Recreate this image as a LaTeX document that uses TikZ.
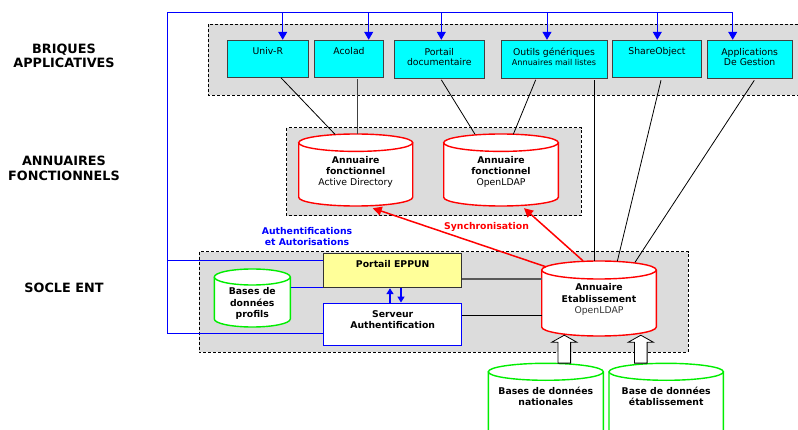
\documentclass[tikz,border=0pt]{standalone}
\usepackage{fontspec}
\setmainfont{DejaVu Sans}
\usetikzlibrary{arrows.meta,calc}
\definecolor{regiongray}{HTML}{DCDCDC}
\definecolor{brickcyan}{HTML}{00FFFF}
\definecolor{eppunyellow}{HTML}{FFFF99}
\definecolor{linkblue}{HTML}{0000FF}
\definecolor{syncred}{HTML}{FF0000}
\definecolor{dbgreen}{HTML}{00EE00}

% box with text on top: width, height, first-line strut, text
\newcommand\topbox[4]{\parbox[c][#2][t]{#1}{\centering\rule{0pt}{#3}#4}}

% cylinder: name, cx, ytop, rx, ry, height, style, text, text shift
\newcommand\mycyl[9]{%
  \fill[white] ({#2-#4}, {#3+#5}) -- ({#2-#4}, {#3+#6-#5}) arc[start angle=180, end angle=360, x radius=#4pt, y radius=#5pt] -- ({#2+#4}, {#3+#5}) -- cycle;
  \draw[#7] ({#2-#4}, {#3+#5}) -- ({#2-#4}, {#3+#6-#5}) arc[start angle=180, end angle=360, x radius=#4pt, y radius=#5pt] -- ({#2+#4}, {#3+#5});
  \filldraw[#7, fill=white] (#2, {#3+#5}) ellipse[x radius=#4pt, y radius=#5pt];
  \node[inner sep=0pt, minimum width=2*#4pt, minimum height=#6pt] (#1) at (#2, {#3+#6/2}) {};
  \node[cyltext] (#1-t) at (#2, {#3+#6/2+1*(#9)}) {#8};
}

% hollow upward arrow: base coordinate, tip coordinate
\newcommand\hollowup[2]{%
  \draw[hollow] ($(#1)+(-6.3,0)$) -- ($(#2)+(-6.3,7)$) -- ($(#2)+(-12.5,7)$) -- (#2)
    -- ($(#2)+(12.5,7)$) -- ($(#2)+(6.3,7)$) -- ($(#1)+(6.3,0)$) -- cycle;
}

\tikzset{
  region/.style={draw=black, dash pattern=on 3pt off 2pt, fill=regiongray, line width=0.8pt},
  brick/.style={draw=black!75, fill=brickcyan, line width=1pt, inner sep=0pt, font=\fontsize{9.3}{10}\selectfont},
  cyltext/.style={inner sep=0pt, align=center, font=\fontsize{9.3}{11.3}\selectfont},
  link/.style={line width=0.8pt, black},
  buslink/.style={linkblue, line width=1pt},
  busarrow/.style={buslink, -{Triangle[length=8pt,width=9pt]}},
  pairarrow/.style={linkblue, line width=1.5pt, -{Triangle[length=6pt,width=7pt]}},
  syncarrow/.style={syncred, line width=1.5pt, -{Triangle[length=9pt,width=9pt]}},
  hollow/.style={draw=black, fill=white, line width=0.8pt},
  layerlabel/.style={font=\fontsize{12.8}{14.5}\selectfont\bfseries, align=center},
  redcyl/.style={syncred, line width=1.4pt},
  greencyl/.style={dbgreen, line width=1.4pt}
}

\begin{document}
\begin{tikzpicture}[x=1pt, y=-1pt]
\useasboundingbox (0,0) rectangle (798,430);
\clip (0,0) rectangle (798,430);

% layer labels
\node[layerlabel] (lab1) at (64,55.8) {BRIQUES\\APPLICATIVES};
\node[layerlabel] (lab2) at (64,168.3) {ANNUAIRES\\FONCTIONNELS};
\node[layerlabel] (lab3) at (64,287.7) {SOCLE ENT};

% regions
\draw[region] (208,24.3) rectangle (805,95);
\draw[region] (286.7,127.7) rectangle (581,215.8);
\draw[region] (199,251.7) rectangle (688.3,352.3);

% application bricks
\node[brick] (univ) at (267.8,58.8) {\topbox{81pt}{37pt}{14pt}{Univ-R}};
\node[brick] (acolad) at (349,58.8) {\topbox{69.4pt}{37pt}{14pt}{Acolad}};
\node[brick] (pdoc) at (439.3,59.3) {\topbox{90pt}{38pt}{15pt}{Portail\\documentaire}};
\node[brick] (outils) at (554,59.3) {\topbox{106pt}{38pt}{15pt}{Outils génériques\\{\fontsize{8.1}{10}\selectfont Annuaires mail listes}}};
\node[brick] (share) at (657,58.8) {\topbox{88.6pt}{37pt}{14pt}{ShareObject}};
\node[brick] (appli) at (749.65,59.3) {\topbox{85.3pt}{38pt}{15pt}{Applications\\De Gestion}};

% functional directories
\mycyl{c1}{355.7}{134}{57}{8.7}{72}{redcyl}{\textbf{Annuaire}\\\textbf{fonctionnel}\\Active Directory}{2}
\mycyl{c2}{501}{134}{57.3}{8.7}{72}{redcyl}{\textbf{Annuaire}\\\textbf{fonctionnel}\\OpenLDAP}{2}

% socle
\node[draw=black!80, fill=eppunyellow, line width=1pt, inner sep=0pt, font=\fontsize{9.3}{11}\selectfont\bfseries] (eppun) at (392.7,270.5) {\topbox{138pt}{34.4pt}{14.7pt}{Portail EPPUN}};
\node[draw=linkblue, fill=white, line width=1.5pt, inner sep=0pt, font=\fontsize{9.3}{11}\selectfont\bfseries] (serveur) at (392.7,324.3) {\topbox{138pt}{42pt}{14.7pt}{Serveur\\Authentification}};
\mycyl{profils}{252.3}{269}{38}{8}{58}{greencyl}{\textbf{Bases de}\\\textbf{données}\\\textbf{profils}}{5.5}
\mycyl{ae}{599}{261}{57.3}{9}{75}{redcyl}{\textbf{Annuaire}\\\textbf{Etablissement}\\{\color{black!80}OpenLDAP}}{1}

% bottom databases
\mycyl{nat}{545.8}{363.3}{57.5}{8.5}{100}{greencyl}{\textbf{Bases de données}\\\textbf{nationales}}{-16.7}
\mycyl{etab}{666.2}{363.3}{57.2}{8.5}{100}{greencyl}{\textbf{Base de données}\\\textbf{établissement}}{-16.7}

% black links bricks -> directories
\draw[link] ($(univ.south)+(13.2,0)$) -- ($(c1.north)+(-20.7,0.5)$);
\draw[link, black!75, line width=1pt] ($(acolad.south)+(8.7,1.5)$) -- ($(c1.north)+(2,0)$);
\draw[link] ($(pdoc.south)+(2,1)$) -- ($(c2.north)+(-26,0.5)$);
\draw[link] ($(outils.south)+(-18.3,1)$) -- ($(c2.north)+(12.3,0.5)$);
\draw[link] ($(outils.south)+(40,1.5)$) -- ($(ae.north)+(-5,0)$);
\draw[link] ($(share.south)+(4,2.5)$) -- ($(ae.north)+(18.3,0.5)$);
\draw[link] ($(appli.south)+(4.65,1.5)$) -- ($(ae.north)+(36,1.5)$);

% socle links
\path ($(eppun.east)+(0,8.5)$) coordinate (pe);
\draw[line width=1.2pt, black!65] (pe) -- (pe -| ae.west);
\path ($(serveur.east)+(0,-9.3)$) coordinate (se);
\draw[link] (se) -- (se -| ae.west);
\path ($(profils.east)+(0,-10.7)$) coordinate (pr);
\draw[buslink] (pr) -- (pr -| eppun.west);
\draw[pairarrow] ($(serveur.north)+(-2.7,0)$) -- ($(eppun.south)+(-2.7,0)$);
\draw[pairarrow] ($(eppun.south)+(8.3,0)$) -- ($(serveur.north)+(8.3,0)$);

% blue bus
\coordinate (corner) at (167,12.7);
\coordinate (bu1) at (282.7,12.7);
\coordinate (bu2) at (368.7,12.7);
\coordinate (bu3) at (441.3,12.7);
\coordinate (bu4) at (547,12.7);
\coordinate (bu5) at (657.3,12.7);
\coordinate (bu6) at (732.7,12.7);
\draw[buslink] ($(serveur.west)+(0,9)$) -| (corner) -- (bu6);
\path ($(eppun.west)+(0,-9.8)$) coordinate (ew);
\draw[buslink] (ew) -- (ew -| corner);
\draw[busarrow] (bu1) -- (bu1 |- univ.north);
\draw[busarrow] (bu2) -- (bu2 |- acolad.north);
\draw[busarrow] (bu3) -- (bu3 |- pdoc.north);
\draw[busarrow] (bu4) -- (bu4 |- outils.north);
\draw[busarrow] (bu5) -- (bu5 |- share.north);
\draw[busarrow] (bu6) -- (bu6 |- appli.north);

% synchronisation
\draw[syncarrow] ($(ae.north)+(-53,6)$) -- ($(c1.south)+(17,2)$);
\draw[syncarrow] ($(ae.north)+(-16,0)$) -- ($(c2.south)+(23,2)$);

% feeds
\path ($(nat.north)+(18.5,0)$) coordinate (b1);
\path ($(ae.south)+(-34.7,-1)$) coordinate (t1);
\path ($(etab.north)+(-25.4,0)$) coordinate (b2);
\path ($(ae.south)+(41.8,-1)$) coordinate (t2);
\hollowup{b1}{t1}
\hollowup{b2}{t2}

% labels
\node[font=\fontsize{9.3}{10.7}\selectfont\bfseries, text=linkblue, align=center] (authlabel) at (307,236.3) {Authentifications\\et Autorisations};
\node[font=\fontsize{9.3}{11}\selectfont\bfseries, text=syncred] (synclabel) at (486.5,226.7) {Synchronisation};
\end{tikzpicture}
\end{document}
